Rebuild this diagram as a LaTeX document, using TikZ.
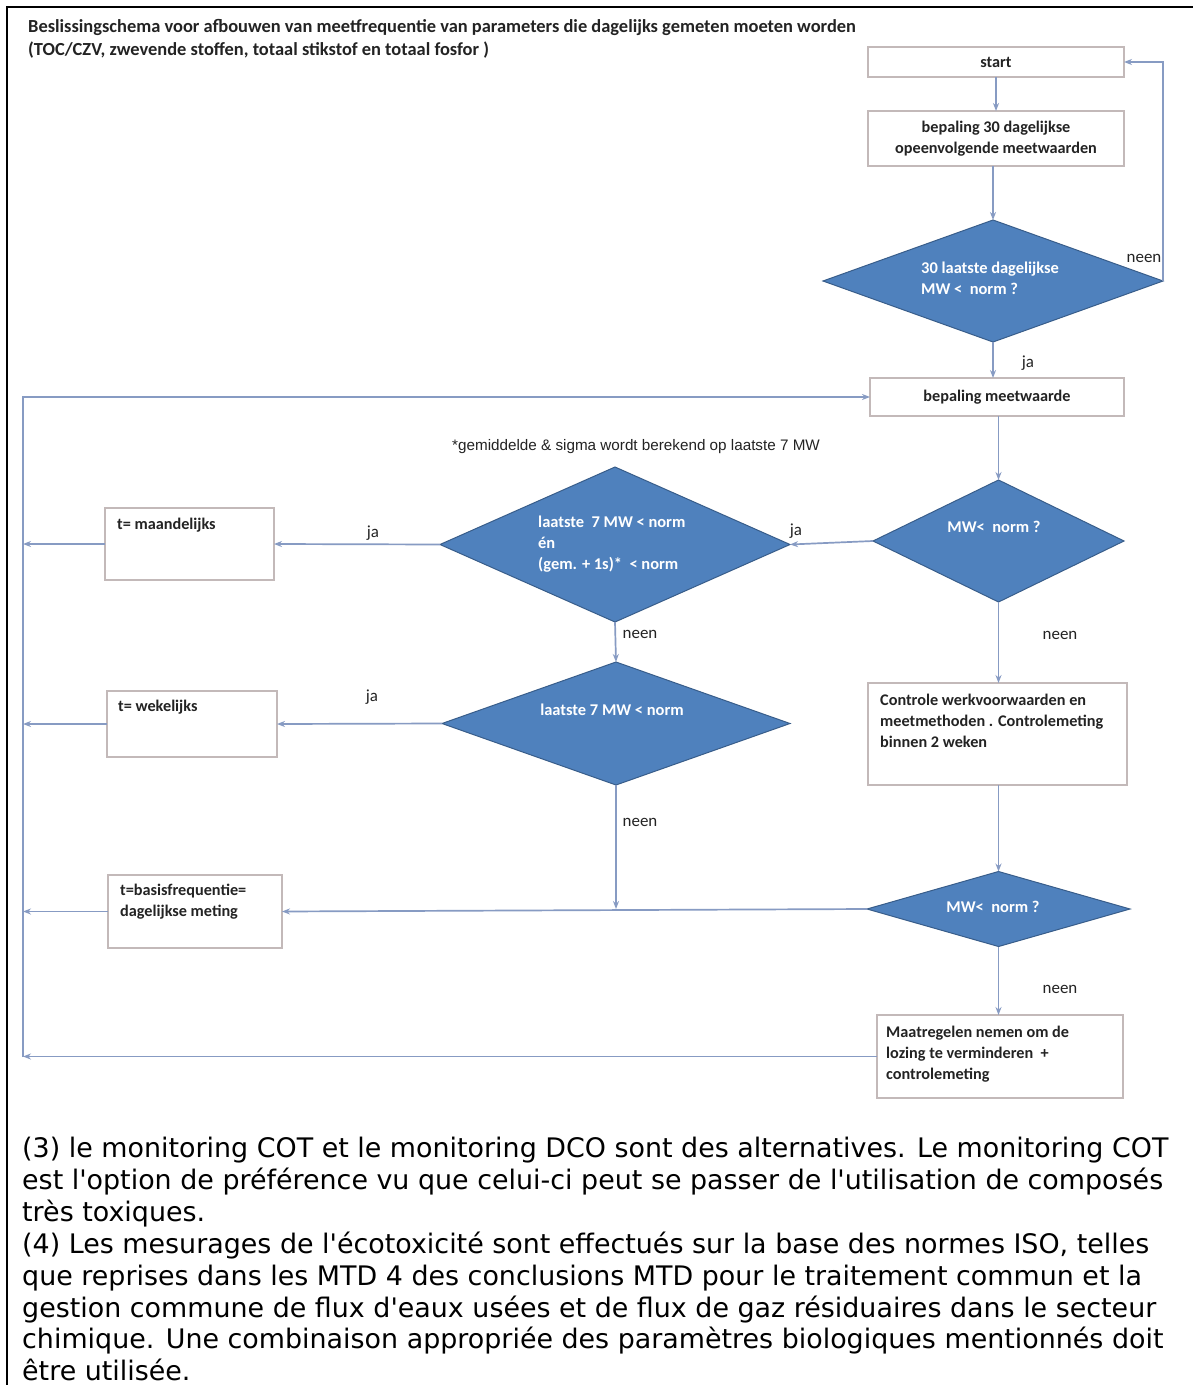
\documentclass[tikz,border=0pt]{standalone}
\usepackage{fontspec}
\setmainfont{Carlito}
\newfontfamily\verd{DejaVu Sans}
\newfontfamily\arialf{Liberation Sans}
\usetikzlibrary{shapes.geometric,arrows.meta}
\definecolor{dfill}{RGB}{79,129,189}
\definecolor{dline}{RGB}{56,93,138}
\definecolor{connc}{RGB}{135,155,195}
\definecolor{bline}{RGB}{195,185,185}
\definecolor{txt}{RGB}{35,35,35}
\begin{document}
\begin{tikzpicture}[x=1bp,y=-1bp,
  dia/.style={diamond, draw=dline, fill=dfill, line width=1bp, inner sep=0pt, outer sep=0pt},
  box/.style={rectangle, draw=bline, line width=1.2bp, inner sep=0pt, outer sep=0pt, fill=white},
  conn/.style={draw=connc, line width=1.7bp},
  arr/.style={conn, -{Stealth[length=8bp,width=6bp]}},
  ftxt/.style={font=\fontsize{16.3}{21}\selectfont\bfseries, text=txt, align=left},
  ctxt/.style={font=\fontsize{16.3}{21}\selectfont\bfseries, text=txt, align=center},
  wtxt/.style={font=\fontsize{16.5}{21}\selectfont\bfseries, text=white, inner sep=0pt, align=left},
  lbl/.style={font=\fontsize{17}{20}\selectfont, text=txt, inner sep=0pt},
  ttl/.style={font=\fontsize{18.5}{23}\selectfont\bfseries, text=txt, inner sep=0pt, anchor=west},
  btxt/.style={font=\verd\fontsize{27}{32}\selectfont, text=black, inner sep=0pt, align=left, anchor=north west},
  frame/.style={draw=black, line width=2.5bp}
]
\useasboundingbox (0,0) rectangle (1193,1385);
\fill[white] (0,0) rectangle (1193,1385);
% page frame
\draw[frame] (7,1385) -- (7,7) -- (1193,7);

% title
\node[ttl] (title1) at (28,27) {Beslissingschema voor afbouwen van meetfrequentie van parameters die dagelijks gemeten moeten worden};
\node[ttl] (title2) at (28,50) {(TOC/CZV, zwevende stoffen, totaal stikstof en totaal fosfor )};

% boxes
\node[box, minimum width=256bp, minimum height=30bp, ctxt] (start) at (996,62) {start};
\node[box, minimum width=256bp, minimum height=55bp, ctxt] (b30) at (996,138.5) {bepaling 30 dagelijkse\\opeenvolgende meetwaarden};
\node[box, minimum width=254bp, minimum height=38bp, ctxt] (bm) at (997,397) {bepaling meetwaarde};
\node[box, minimum width=169bp, minimum height=72bp] (maand) at (189.5,544) {};
\node[box, minimum width=170bp, minimum height=66bp] (wek) at (192,724) {};
\node[box, minimum width=174bp, minimum height=73bp] (basis) at (195,911.5) {};
\node[box, minimum width=259bp, minimum height=102bp] (ctrl) at (997.5,734) {};
\node[box, minimum width=246bp, minimum height=83bp] (maat) at (1000,1056.5) {};

% box texts
\node[ftxt, inner sep=0pt, anchor=west] (maandt) at (117,525) {t= maandelijks};
\node[ftxt, inner sep=0pt, anchor=west] (wekt) at (118,707) {t= wekelijks};
\node[ftxt, inner sep=0pt, anchor=west] (basist) at (120,902) {t=basisfrequentie=\\dagelijkse meting};
\node[ftxt, inner sep=0pt, anchor=west] (ctrlt) at (880,721) {Controle werkvoorwaarden en\\meetmethoden . Controlemeting\\binnen 2 weken};
\node[ftxt, inner sep=0pt, anchor=west] (maatt) at (886,1054) {Maatregelen nemen om de\\lozing te verminderen\ \ +\\controlemeting};

% diamonds
\node[dia, minimum width=340bp, minimum height=122bp] (d1) at (993,281) {};
\node[dia, minimum width=350bp, minimum height=155bp] (d2) at (615,544.5) {};
\node[dia, minimum width=251bp, minimum height=122bp] (d3) at (998.5,541) {};
\node[dia, minimum width=348bp, minimum height=123bp] (d4) at (616,723.5) {};
\node[dia, minimum width=263bp, minimum height=75bp] (d5) at (998.5,909) {};

% diamond texts
\node[wtxt, anchor=west] (d1t) at (921,278) {30 laatste dagelijkse\\MW <\ \ norm ?};
\node[wtxt, anchor=west] (d2t) at (538,544) {laatste\ \ 7 MW < norm\\én\\(gem. + 1s)*\ \ < norm};
\node[wtxt] (d3t) at (994,527) {MW<\ \ norm ?};
\node[wtxt] (d4t) at (612,710) {laatste 7 MW < norm};
\node[wtxt] (d5t) at (993,907) {MW<\ \ norm ?};

% footnote
\node[font=\arialf\fontsize{15.3}{18}\selectfont, text=txt, inner sep=0pt, anchor=west] (foot) at (452,447) {*gemiddelde \& sigma wordt berekend op laatste 7 MW};

% labels
\node[lbl] (l1) at (1144,258) {neen};
\node[lbl] (l2) at (1028,363) {ja};
\node[lbl] (l3) at (796,531) {ja};
\node[lbl] (l4) at (373,533) {ja};
\node[lbl] (l5) at (640,634) {neen};
\node[lbl] (l6) at (1060,635) {neen};
\node[lbl] (l7) at (372,697) {ja};
\node[lbl] (l8) at (640,822) {neen};
\node[lbl] (l9) at (1060,989) {neen};

% connectors
\coordinate (Ltop) at (23,397);
\coordinate (Lbot) at (23,1057);
\draw[arr] (start.south) -- (b30.north);
\draw[arr] (d1.north |- b30.south) -- (d1.north);
\draw[arr] (d1.east) |- (start.east);
\draw[arr] (d1.south) -- (d1.south |- bm.north);
\draw[arr] (bm.south -| d3.north) -- (d3.north);
\draw[arr] (d3.west) -- (d2.east);
\draw[arr] (d2.west) -- (maand.east);
\draw[arr] (d2.south) -- (d4.north);
\draw[arr] (d4.west) -- (wek.east);
\draw[arr] (d4.south) -- (d4.south |- d5.west);
\draw[arr] (d3.south) -- (d3.south |- ctrl.north);
\draw[arr] (ctrl.south -| d5.north) -- (d5.north);
\draw[arr] (d5.west) -- (basis.east);
\draw[arr] (d5.south) -- (d5.south |- maat.north);
\draw[arr] (maand.west) -- (maand.west -| Ltop);
\draw[arr] (wek.west) -- (wek.west -| Ltop);
\draw[arr] (basis.west) -- (basis.west -| Ltop);
\draw[arr] (maat.west) -- (maat.west -| Ltop);
\draw[arr] (Lbot) -- (Ltop) -- (bm.west);

% bottom text
\node[btxt] (notes) at (22,1137) {(3) le monitoring COT et le monitoring DCO sont des alternatives. Le monitoring COT\\est l'option de préférence vu que celui-ci peut se passer de l'utilisation de composés\\très toxiques.\\(4) Les mesurages de l'écotoxicité sont effectués sur la base des normes ISO, telles\\que reprises dans les MTD 4 des conclusions MTD pour le traitement commun et la\\gestion commune de flux d'eaux usées et de flux de gaz résiduaires dans le secteur\\chimique. Une combinaison appropriée des paramètres biologiques mentionnés doit\\être utilisée.};
\end{tikzpicture}
\end{document}
